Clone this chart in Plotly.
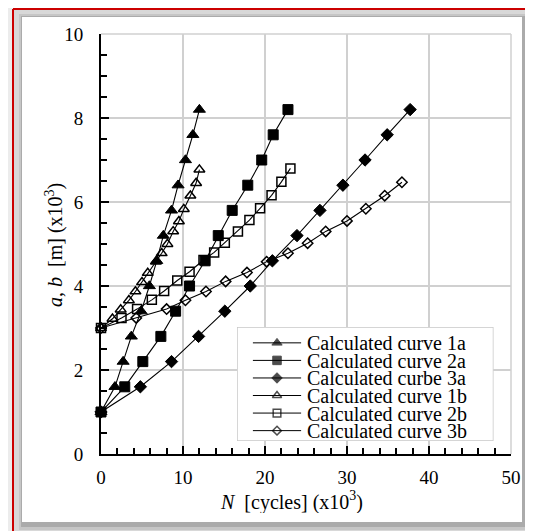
import plotly.graph_objects as go

# ---------------- data ----------------
N_1a = [0, 1.7, 2.7, 3.7, 4.9, 5.9, 6.8, 7.6, 8.6, 9.4, 10.3, 11.2, 12.0]
ab_1a = [1.0, 1.6, 2.2, 2.8, 3.4, 4.0, 4.6, 5.2, 5.8, 6.4, 7.0, 7.6, 8.2]

N_2a = [0, 2.9, 5.1, 7.3, 9.1, 10.8, 12.7, 14.3, 16.0, 17.9, 19.6, 21.0, 22.8]
ab_2a = [1.0, 1.6, 2.2, 2.8, 3.4, 4.0, 4.6, 5.2, 5.8, 6.4, 7.0, 7.6, 8.2]

N_3a = [0, 4.8, 8.6, 11.9, 15.1, 18.2, 20.9, 23.9, 26.7, 29.5, 32.2, 34.9, 37.7]
ab_3a = [1.0, 1.6, 2.2, 2.8, 3.4, 4.0, 4.6, 5.2, 5.8, 6.4, 7.0, 7.6, 8.2]

N_1b = [0, 1.4, 2.4, 3.4, 4.2, 5.0, 5.7, 6.7, 7.4, 8.1, 8.8, 9.5, 10.1, 10.9, 11.6, 12.0]
ab_1b = [3.0, 3.22, 3.44, 3.66, 3.87, 4.09, 4.31, 4.58, 4.78, 5.0, 5.3, 5.54, 5.83, 6.15, 6.45, 6.77]

N_2b = [0, 2.5, 4.4, 6.2, 7.7, 9.3, 10.8, 12.5, 13.8, 15.1, 16.7, 18.1, 19.4, 20.8, 22.0, 23.1]
ab_2b = [3.0, 3.24, 3.45, 3.67, 3.88, 4.13, 4.34, 4.62, 4.8, 5.03, 5.3, 5.57, 5.85, 6.16, 6.48, 6.8]

N_3b = [0, 4.3, 8.0, 10.3, 12.8, 15.2, 17.8, 20.2, 22.8, 25.2, 27.4, 30.0, 32.3, 34.6, 36.7]
ab_3b = [3.0, 3.24, 3.45, 3.66, 3.87, 4.11, 4.32, 4.58, 4.78, 5.02, 5.3, 5.55, 5.84, 6.15, 6.47]

series_names = ["Calculated curve 1a", "Calculated curve 2a", "Calculated curbe 3a",
                "Calculated curve 1b", "Calculated curve 2b", "Calculated curve 3b"]

x_ticks = [0, 10, 20, 30, 40, 50]
y_ticks = [0, 2, 4, 6, 8, 10]

# ---------------- layout geometry ----------------
FONT = "Liberation Serif"
OFF = 8                      # page body margin offset
W, H = 533 - OFF, 531 - OFF
ML, MR, MT, MB = 93, 22, 26, 77
PW, PH = W - ML - MR, H - MT - MB


def px(xp):
    """screen x pixel -> paper x"""
    return (xp - OFF - ML) / PW


def py(yp):
    """screen y pixel -> paper y"""
    return (H - MB - (yp - OFF)) / PH


styles = [
    ("triangle-up", 10.5, 1.0),
    ("square", 10, 1.0),
    ("diamond", 9.5, 1.0),
    ("triangle-up-open", 9.5, 1.5),
    ("square-open", 9, 1.5),
    ("diamond-open", 8, 1.5),
]
data = [(N_1a, ab_1a), (N_2a, ab_2a), (N_3a, ab_3a),
        (N_1b, ab_1b), (N_2b, ab_2b), (N_3b, ab_3b)]

fig = go.Figure()
for (xs, ys), (sym, size, lw), name in zip(data, styles, series_names):
    fig.add_trace(go.Scatter(
        x=xs, y=ys, mode="lines+markers", name=name, showlegend=False,
        line=dict(color="black", width=1.1),
        marker=dict(symbol=sym, size=size, color="black",
                    line=dict(color="black", width=lw)),
        cliponaxis=False,
    ))

# ---------------- hand-drawn legend box (own hidden axes) ----------------
leg_rows = [0.861, 0.707, 0.553, 0.399, 0.245, 0.091]
for (sym, size, lw), name, ry in zip(styles, series_names, leg_rows):
    fig.add_trace(go.Scatter(
        x=[0.062, 0.156, 0.25], y=[ry, ry, ry], xaxis="x2", yaxis="y2",
        mode="lines+markers", showlegend=False, hoverinfo="skip",
        line=dict(color="black", width=1),
        marker=dict(symbol=sym, size=[0, size * 0.85, 0], color="black",
                    line=dict(color="black", width=lw)),
    ))

annotations = []
for name, ry in zip(series_names, leg_rows):
    annotations.append(dict(
        x=0.265, y=ry, xref="x2", yref="y2", text=name, showarrow=False,
        xanchor="left", yanchor="middle", height=17,
        font=dict(family=FONT, size=20, color="black"),
    ))

annotations.append(dict(
    x=px(291), y=py(501), xref="paper", yref="paper",
    text="<i>N</i>  [cycles] (x10<sup>3</sup>)", showarrow=False,
    xanchor="center", yanchor="middle", height=24,
    font=dict(family=FONT, size=20, color="black"),
))
annotations.append(dict(
    x=px(54), y=py(245), xref="paper", yref="paper",
    text="<i>a</i>, <i>b</i>  [m] (x10<sup>3</sup>)", showarrow=False,
    textangle=-90, xanchor="center", yanchor="middle",
    font=dict(family=FONT, size=20, color="black"),
))

shapes = [
    # frame shadow and white panel
    dict(type="rect", xref="paper", yref="paper", x0=px(14), x1=px(545), y0=py(9), y1=py(545),
         fillcolor="#d8d8d8", line=dict(width=0), layer="below"),
    dict(type="rect", xref="paper", yref="paper", x0=px(19), x1=px(531), y0=py(14), y1=py(530),
         fillcolor="#c6c6c6", line=dict(width=0), layer="below"),
    dict(type="rect", xref="paper", yref="paper", x0=px(21), x1=px(527), y0=py(16), y1=py(527),
         fillcolor="#ababab", line=dict(width=0), layer="below"),
    dict(type="rect", xref="paper", yref="paper", x0=px(22), x1=px(522), y0=py(17), y1=py(522),
         fillcolor="white", line=dict(width=0), layer="below"),
    # red frame lines (left and top)
    dict(type="line", xref="paper", yref="paper", x0=px(13), x1=px(560), y0=py(9), y1=py(9),
         line=dict(color="#cc0000", width=2), layer="below"),
    dict(type="line", xref="paper", yref="paper", x0=px(13), x1=px(13), y0=py(9), y1=py(560),
         line=dict(color="#cc0000", width=2), layer="below"),
    # top / right border of plot area (grey)
    dict(type="line", xref="paper", yref="paper", x0=0, x1=1, y0=1, y1=1,
         line=dict(color="#d0d0d0", width=1.5), layer="below"),
    dict(type="line", xref="paper", yref="paper", x0=1, x1=1, y0=0, y1=1,
         line=dict(color="#d0d0d0", width=1.5), layer="below"),
    # legend box
    dict(type="rect", xref="x2", yref="y2", x0=0, x1=1, y0=0, y1=1,
         fillcolor="white", line=dict(color="#c8c8c8", width=1.5), layer="between"),
]

axis_common = dict(
    showline=True, linecolor="black", linewidth=2,
    ticks="inside", ticklen=8, tickwidth=1.5, tickcolor="black",
    showgrid=True, gridcolor="#d0d0d0", gridwidth=1.5,
    zeroline=False,
    tickfont=dict(family=FONT, size=19, color="black"),
)

fig.update_layout(
    width=W, height=H,
    margin=dict(l=ML, r=MR, t=MT, b=MB),
    paper_bgcolor="#ececec",
    plot_bgcolor="rgba(0,0,0,0)",
    showlegend=False,
    xaxis=dict(range=[0, 50], tickmode="array", tickvals=x_ticks,
               ticklabelstandoff=5,
               minor=dict(dtick=2, ticks="inside", ticklen=6, tickwidth=1.5,
                          tickcolor="black", showgrid=False),
               **axis_common),
    yaxis=dict(range=[0, 10], tickmode="array", tickvals=y_ticks,
               ticklabelstandoff=12,
               minor=dict(dtick=0.5, ticks="inside", ticklen=6, tickwidth=1.5,
                          tickcolor="black", showgrid=False),
               **axis_common),
    xaxis2=dict(domain=[px(237), px(493.5)], range=[0, 1], visible=False, fixedrange=True),
    yaxis2=dict(domain=[py(441), py(327)], range=[0, 1], visible=False, fixedrange=True),
    shapes=shapes,
    annotations=annotations,
)

fig.write_html("out.html")
